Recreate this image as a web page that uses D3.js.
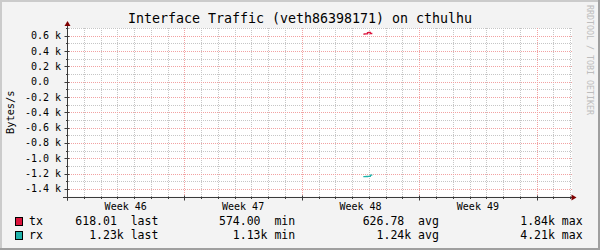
<!DOCTYPE html>
<html>
<head>
<meta charset="utf-8">
<script src="https://cdn.jsdelivr.net/npm/d3@7"></script>
<style>
  body { margin: 0; background: #f3f3f3; }
  svg text { font-family: 'DejaVu Sans Mono', monospace; white-space: pre; }
</style>
</head>
<body>
<script>
'use strict';

// chart values
var chartTitle = 'Interface Traffic (veth86398171) on cthulhu';
var yLabel = 'Bytes/s';
var watermark = 'RRDTOOL / TOBI OETIKER';
var timeStart = '2020-11-09T00:00:00Z';
var timeEnd = '2020-12-09T01:12:00Z';

var sampleTimes = ['2020-11-26T16:00:00Z', '2020-11-26T18:00:00Z', '2020-11-26T20:00:00Z',
    '2020-11-26T22:00:00Z', '2020-11-27T00:00:00Z', '2020-11-27T02:00:00Z', '2020-11-27T04:00:00Z'];
var txValues = [620, 622, 624, 640, 642, 628, 618];
var rxValues = [-1240, -1240, -1239, -1238, -1237, -1222, -1230];

var seriesNames = ['tx', 'rx'];
var statLabels = ['last', 'min', 'avg', 'max'];
var txStats = ['618.01 ', '574.00 ', '626.78 ', '  1.84k'];
var rxStats = ['  1.23k', '  1.13k', '  1.24k', '  4.21k'];

var colors = {
    back: '#f3f3f3',
    shadeA: '#cbcbcb',
    shadeB: '#9f9f9f',
    grid: '#c6c6c6',
    mgrid: '#f2a2a2',
    axis: '#3a3a3a',
    arrow: '#7f0000',
    tx: '#dc143c',
    rx: '#20b2aa'
};

var W = 600, H = 250;
var plotLeft = 67, plotRight = 571, plotTop = 28, plotBottom = 196.5;

var svg = d3.select('body').append('svg')
        .attr('width', W)
        .attr('height', H);

// background and shaded frame
svg.append('rect').attr('width', W).attr('height', H).style('fill', colors.back);
svg.append('path')
        .attr('d', 'M0,0H' + W + 'V2H2V' + H + 'H0Z')
        .style('fill', colors.shadeA);
svg.append('path')
        .attr('d', 'M' + W + ',0V' + H + 'H0V' + (H - 2) + 'H' + (W - 2) + 'V0Z')
        .style('fill', colors.shadeB);

var x = d3.scaleUtc()
        .domain([new Date(timeStart), new Date(timeEnd)])
        .range([plotLeft, plotRight]);
var y = d3.scaleLinear()
        .domain([-1500, 700])
        .range([plotBottom, plotTop]);

// canvas
svg.append('rect')
        .attr('x', plotLeft)
        .attr('y', plotTop)
        .attr('width', plotRight - plotLeft + 1)
        .attr('height', plotBottom - plotTop)
        .style('fill', '#ffffff');

var crisp = function(v) {
    return Math.round(v) + 0.5;
};

var grid = svg.append('g')
        .style('stroke-width', 1)
        .style('stroke-dasharray', '1,1')
        .style('fill', 'none');

// minor grid: every day and every 100 B/s
var days = d3.utcDay.range(x.domain()[0], x.domain()[1]);
var mondays = d3.utcMonday.range(x.domain()[0], x.domain()[1]);
var isMonday = function(d) {
    return d.getUTCDay() === 1;
};
grid.selectAll('.vmin')
        .data(days.filter(function(d) { return !isMonday(d); }))
        .enter().append('line')
        .attr('x1', function(d) { return crisp(x(d)); })
        .attr('x2', function(d) { return crisp(x(d)); })
        .attr('y1', plotTop)
        .attr('y2', plotBottom)
        .style('stroke', colors.grid);

var majorY = y.ticks(11);
var minorY = y.ticks(22).filter(function(v) { return majorY.indexOf(v) < 0; });
grid.selectAll('.hmin')
        .data(minorY)
        .enter().append('line')
        .attr('x1', plotLeft)
        .attr('x2', plotRight + 1)
        .attr('y1', function(d) { return crisp(y(d)); })
        .attr('y2', function(d) { return crisp(y(d)); })
        .style('stroke', colors.grid);

// major grid: weeks and every 200 B/s
grid.selectAll('.vmaj')
        .data(mondays)
        .enter().append('line')
        .attr('x1', function(d) { return crisp(x(d)); })
        .attr('x2', function(d) { return crisp(x(d)); })
        .attr('y1', plotTop)
        .attr('y2', plotBottom)
        .style('stroke', colors.mgrid);
grid.selectAll('.hmaj')
        .data(majorY)
        .enter().append('line')
        .attr('x1', plotLeft)
        .attr('x2', plotRight + 1)
        .attr('y1', function(d) { return crisp(y(d)); })
        .attr('y2', function(d) { return crisp(y(d)); })
        .style('stroke', colors.mgrid);

// data lines
var line = d3.line()
        .x(function(d) { return x(d.t); })
        .y(function(d) { return y(d.v); })
        .curve(d3.curveStepAfter);
var toPoints = function(values) {
    return values.map(function(v, i) {
        return {t: new Date(sampleTimes[i]), v: v};
    });
};
svg.append('path')
        .datum(toPoints(txValues))
        .attr('d', line)
        .style('fill', 'none')
        .style('stroke', colors.tx)
        .style('stroke-width', 1.3);
svg.append('path')
        .datum(toPoints(rxValues))
        .attr('d', line)
        .style('fill', 'none')
        .style('stroke', colors.rx)
        .style('stroke-width', 1.3);

// axes with small ticks
var x0 = crisp(plotLeft), y0 = crisp(plotBottom);
var axis = svg.append('g').style('stroke', colors.axis).style('stroke-width', 1);
axis.append('line').attr('x1', plotLeft - 4).attr('x2', plotRight + 1).attr('y1', y0).attr('y2', y0);
axis.append('line').attr('x1', x0).attr('x2', x0).attr('y1', plotBottom + 4).attr('y2', plotTop - 2);
axis.selectAll('.xt')
        .data(days)
        .enter().append('line')
        .attr('x1', function(d) { return crisp(x(d)); })
        .attr('x2', function(d) { return crisp(x(d)); })
        .attr('y1', function(d) { return y0 - (isMonday(d) ? 2 : 1); })
        .attr('y2', function(d) { return y0 + (isMonday(d) ? 3 : 1.5); });
axis.selectAll('.yt')
        .data(y.ticks(22))
        .enter().append('line')
        .attr('y1', function(d) { return crisp(y(d)); })
        .attr('y2', function(d) { return crisp(y(d)); })
        .attr('x1', function(d) { return x0 - (majorY.indexOf(d) >= 0 ? 3 : 1.5); })
        .attr('x2', function(d) { return x0 + (majorY.indexOf(d) >= 0 ? 2 : 1); });

svg.append('path')
        .attr('d', 'M' + (plotRight + 0.5) + ',' + (y0 - 3) + 'L' + (plotRight + 5.5) + ',' + y0 +
                'L' + (plotRight + 0.5) + ',' + (y0 + 3) + 'Z')
        .style('fill', colors.arrow);
svg.append('path')
        .attr('d', 'M' + (x0 - 3) + ',' + (plotTop - 2) + 'L' + x0 + ',' + (plotTop - 7) +
                'L' + (x0 + 3) + ',' + (plotTop - 2) + 'Z')
        .style('fill', colors.arrow);

// tick labels
var yFormat = function(v) {
    return v === 0 ? '0.0  ' : (v / 1000).toFixed(1) + ' k';
};
svg.selectAll('.ylab')
        .data(majorY)
        .enter().append('text')
        .attr('x', 61)
        .attr('y', function(d) { return y(d) + 3.6; })
        .attr('text-anchor', 'end')
        .style('font-size', '10px')
        .text(yFormat);

var weekFormat = d3.utcFormat('Week %V');
svg.selectAll('.xlab')
        .data(mondays.filter(function(d) {
            return d3.utcHour.offset(d, 84) < x.domain()[1];
        }))
        .enter().append('text')
        .attr('x', function(d) { return x(d3.utcHour.offset(d, 84)); })
        .attr('y', 209.5)
        .attr('text-anchor', 'middle')
        .style('font-size', '10px')
        .text(weekFormat);

// title, axis label, watermark
svg.append('text')
        .attr('x', W / 2)
        .attr('y', 23)
        .attr('text-anchor', 'middle')
        .style('font-size', '13.3px')
        .text(chartTitle);
svg.append('text')
        .attr('transform', 'translate(14,' + ((plotTop + plotBottom) / 2) + ') rotate(-90)')
        .attr('text-anchor', 'middle')
        .style('font-size', '10.3px')
        .text(yLabel);
svg.append('text')
        .attr('transform', 'translate(587,5) rotate(90)')
        .style('font-size', '8.3px')
        .style('fill', '#bdbdbd')
        .text(watermark);

// legend
var legendRows = [txStats, rxStats];
var legendColors = [colors.tx, colors.rx];
for (var i = 0; i < seriesNames.length; i++) {
    var baseY = 225 + i * 14;
    svg.append('rect')
            .attr('x', 15.5)
            .attr('y', baseY - 7.5)
            .attr('width', 7)
            .attr('height', 8)
            .style('fill', legendColors[i])
            .style('stroke', '#000')
            .style('stroke-width', 1);
    svg.append('text')
            .attr('x', 29)
            .attr('y', baseY)
            .style('font-size', '11.5px')
            .text(seriesNames[i]);
    for (var j = 0; j < statLabels.length; j++) {
        svg.append('text')
                .attr('x', 75.3 + j * 143.7)
                .attr('y', baseY)
                .style('font-size', '11.5px')
                .text(legendRows[i][j] + ' ' + statLabels[j]);
    }
}
</script>
</body>
</html>
